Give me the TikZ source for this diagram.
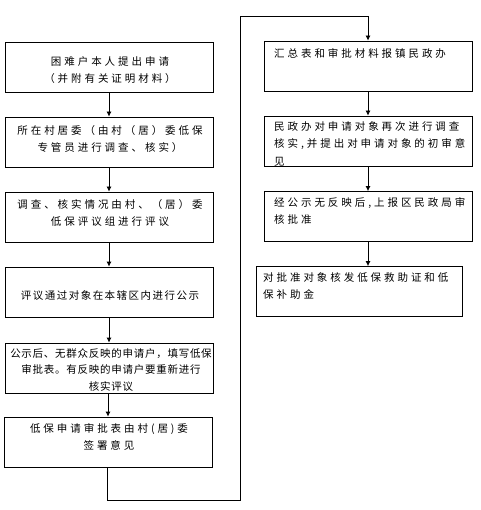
\documentclass[tikz,border=0pt]{standalone}
\usepackage{fontspec}
\newfontfamily\cjk[LetterSpace=28]{Noto Sans CJK SC}
\usetikzlibrary{arrows.meta}
\tikzset{
  stepbox/.style={draw, line width=0.8pt, minimum width=208pt, minimum height=50pt, inner sep=0pt},
  steptext/.style={font=\cjk\fontsize{10.5}{17.5}\selectfont, inner sep=0pt},
  flow/.style={line width=0.8pt, -{Latex[length=5pt,width=5pt]}}
}
\begin{document}
\begin{tikzpicture}[x=1pt,y=-1pt]
\useasboundingbox (0,0) rectangle (480,510);
% left column
\node[stepbox] (b1) at (109,67){};
\node[stepbox] (b2) at (109,142){};
\node[stepbox] (b3) at (109,217){};
\node[stepbox] (b4) at (109,292){};
\node[stepbox] (b5) at (109,368){};
\node[stepbox] (b6) at (108,442){};
\node[steptext, align=center] (t1) at (110,70){困难户本人提出申请\\（并附有关证明材料）};
\node[steptext, align=center] (t2) at (110,139){所在村居委（由村（居）委低保\\专管员进行调查、核实）};
\node[steptext, align=center] (t3) at (110,213){调查、核实情况由村、（居）委\\低保评议组进行评议};
\node[steptext, align=center, font=\cjk\addfontfeature{LetterSpace=14}\fontsize{10.5}{17.5}\selectfont] (t4) at (110,296){评议通过对象在本辖区内进行公示};
\node[steptext, align=center, font=\cjk\addfontfeature{LetterSpace=7}\fontsize{10.5}{16.5}\selectfont] (t5) at (111,370){公示后、无群众反映的申请户，填写低保\\审批表。有反映的申请户要重新进行\\核实评议};
\node[steptext, align=center] (t6) at (109,437){低保申请审批表由村(居)委\\签署意见};
\draw[flow] (b1) -- (b2);
\draw[flow] (b2) -- (b3);
\draw[flow] (b3) -- (b4);
\draw[flow] (b4) -- (b5);
\draw[flow] (b5.south -| b6) -- (b6);
% turn over to the right column
\coordinate (c1) at (107,500);
\coordinate (c2) at (240,500);
\coordinate (c3) at (240,16);
\node[stepbox] (b7) at (368,66){};
\node[stepbox] (b8) at (368,141){};
\node[stepbox] (b9) at (368,216.5){};
\node[stepbox, minimum width=206pt] (b10) at (359,291.5){};
\draw[flow] (b6.south -| c1) -- (c1) -- (c2) -- (c3) -- (c3 -| b7) -- (b7);
\node[steptext, anchor=west] (t7) at (274,54){汇总表和审批材料报镇民政办};
\node[steptext, anchor=north west, align=left] (t8) at (274,121){民政办对申请对象再次进行调查\\核实,并提出对申请对象的初审意\\见};
\node[steptext, anchor=north west, align=left] (t9) at (274,197){经公示无反映后,上报区民政局审\\核批准};
\node[steptext, anchor=north west, align=left] (t10) at (263,272){对批准对象核发低保救助证和低\\保补助金};
\draw[flow] (b7) -- (b8);
\draw[flow] (b8) -- (b9);
\draw[flow] (b9.south) -- (b9.south |- b10.north);
\end{tikzpicture}
\end{document}
